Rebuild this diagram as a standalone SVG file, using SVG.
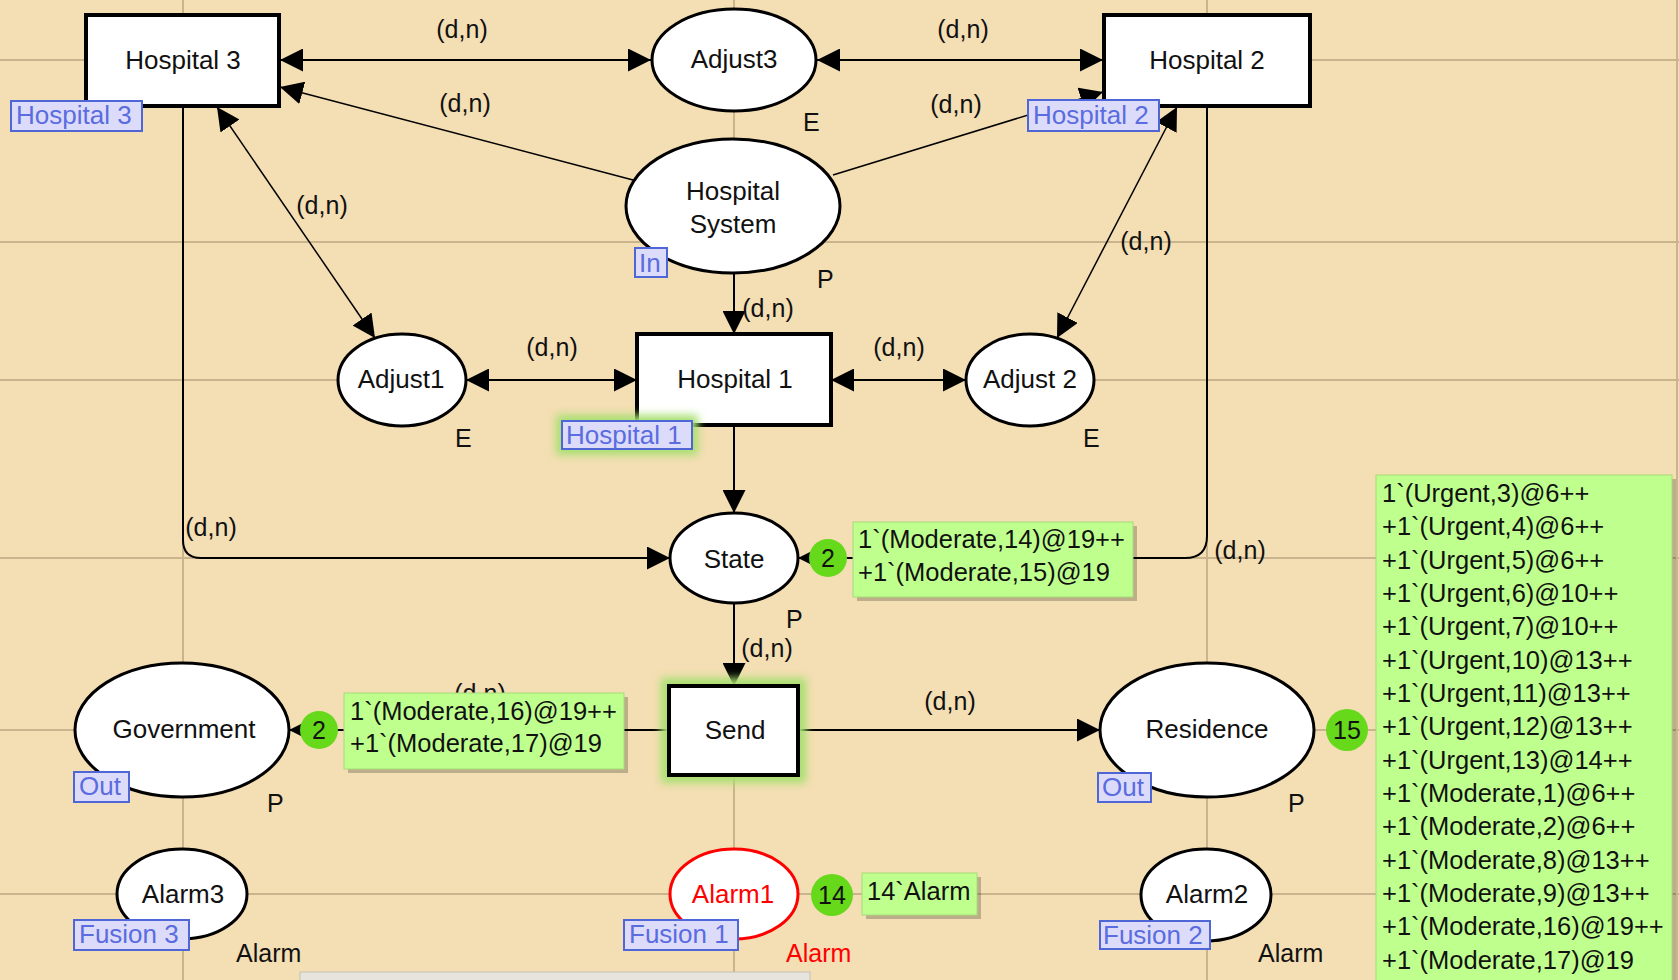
<svg xmlns="http://www.w3.org/2000/svg" width="1679" height="980" viewBox="0 0 1679 980">
<style>
text{font-family:"Liberation Sans",Arial,sans-serif;}
.grid{stroke:#C9B48D;stroke-width:2;fill:none}
.arc{stroke:#000;stroke-width:2;fill:none}
.arcd{stroke:#000;stroke-width:1.5;fill:none}
.trans{fill:#fff;stroke:#000;stroke-width:4}
.place{fill:#fff;stroke:#000;stroke-width:3}
.name{font-size:26px;fill:#111;text-anchor:middle}
.insc{font-size:25px;fill:#111}
.mid{text-anchor:middle}
.tag rect{fill:#DCDCFA;stroke:#4F67D6;stroke-width:2}
.tag text{font-size:26px;fill:#5A6CE0}
.tok circle{fill:#66D91A}
.tok text{font-size:25px;fill:#111;text-anchor:middle}
.box{fill:#BFFF8E;stroke:#A6DC78;stroke-width:1}
.sh{fill:#000;opacity:.22}
.mk{font-size:25.5px;fill:#111}
.glow{fill:#A6E070;filter:url(#blur)}
.red{stroke:#FF0000}
.redt{fill:#FF0000}
</style>
<defs>
<marker id="ah" markerWidth="23" markerHeight="23" refX="23" refY="11.5" orient="auto-start-reverse" markerUnits="userSpaceOnUse"><path d="M0,0 L23,11.5 L0,23 Z" fill="#000"/></marker>
<filter id="blur" x="-30%" y="-30%" width="160%" height="160%"><feGaussianBlur stdDeviation="4"/></filter>
</defs>
<rect width="1679" height="980" fill="#F4DEB3"/>
<g id="grid" class="grid">
<line x1="183" y1="0" x2="183" y2="980"/>
<line x1="734" y1="0" x2="734" y2="980"/>
<line x1="1207" y1="0" x2="1207" y2="980"/>
<line x1="1677" y1="0" x2="1677" y2="980"/>
<line x1="0" y1="60" x2="1679" y2="60"/>
<line x1="0" y1="242" x2="1679" y2="242"/>
<line x1="0" y1="380" x2="1679" y2="380"/>
<line x1="0" y1="558" x2="1679" y2="558"/>
<line x1="0" y1="730" x2="1679" y2="730"/>
<line x1="0" y1="894" x2="1679" y2="894"/>
</g>
<g id="connectors">
<line class="arc" x1="280" y1="60" x2="651" y2="60" marker-start="url(#ah)" marker-end="url(#ah)"/>
<line class="arc" x1="817" y1="60" x2="1103" y2="60" marker-start="url(#ah)" marker-end="url(#ah)"/>
<line class="arcd" x1="633" y1="180" x2="280" y2="87" marker-end="url(#ah)"/>
<line class="arcd" x1="833" y1="175" x2="1103" y2="92" marker-end="url(#ah)"/>
<line class="arcd" x1="217" y1="107" x2="375" y2="338" marker-start="url(#ah)" marker-end="url(#ah)"/>
<line class="arcd" x1="1177" y1="107" x2="1057" y2="338" marker-start="url(#ah)" marker-end="url(#ah)"/>
<line class="arc" x1="734" y1="273" x2="734" y2="334" marker-end="url(#ah)"/>
<line class="arc" x1="466" y1="380" x2="637" y2="380" marker-start="url(#ah)" marker-end="url(#ah)"/>
<line class="arc" x1="831" y1="380" x2="966" y2="380" marker-start="url(#ah)" marker-end="url(#ah)"/>
<line class="arc" x1="734" y1="425" x2="734" y2="513" marker-end="url(#ah)"/>
<path class="arc" d="M183,106 V540 Q183,558 201,558 H670" marker-end="url(#ah)"/>
<path class="arc" d="M1207,107 V536 Q1207,558 1185,558 H798" marker-end="url(#ah)"/>
<line class="arc" x1="734" y1="603" x2="734" y2="686" marker-end="url(#ah)"/>
<line class="arc" x1="669" y1="730" x2="289" y2="730" marker-end="url(#ah)"/>
<line class="arc" x1="798" y1="730" x2="1100" y2="730" marker-end="url(#ah)"/>
<g class="insc mid">
<text x="462" y="38">(d,n)</text>
<text x="963" y="38">(d,n)</text>
<text x="465" y="112">(d,n)</text>
<text x="956" y="113">(d,n)</text>
<text x="322" y="214">(d,n)</text>
<text x="1146" y="250">(d,n)</text>
<text x="768" y="317">(d,n)</text>
<text x="552" y="356">(d,n)</text>
<text x="899" y="356">(d,n)</text>
<text x="211" y="536">(d,n)</text>
<text x="1240" y="559">(d,n)</text>
<text x="767" y="657">(d,n)</text>
<text x="480" y="702">(d,n)</text>
<text x="950" y="710">(d,n)</text>
</g>
</g>
<g id="hospital3">
<rect class="trans" x="86" y="15" width="193" height="91"/>
<text class="name" x="183" y="69">Hospital 3</text>
<g class="tag"><rect x="11" y="101" width="131" height="30"/><text x="16" y="124">Hospital 3</text></g>
</g>
<g id="adjust3">
<ellipse class="place" cx="734" cy="60" rx="82" ry="51"/>
<text class="name" x="734" y="68">Adjust3</text>
<text class="insc" x="803" y="131">E</text>
</g>
<g id="hospital2">
<rect class="trans" x="1104" y="15" width="206" height="91"/>
<text class="name" x="1207" y="69">Hospital 2</text>
<g class="tag"><rect x="1028" y="100" width="131" height="31"/><text x="1033" y="124">Hospital 2</text></g>
</g>
<g id="hospital-system">
<ellipse class="place" cx="733" cy="206" rx="107" ry="67"/>
<text class="name" x="733" y="200">Hospital</text>
<text class="name" x="733" y="233">System</text>
<g class="tag"><rect x="635" y="248" width="32" height="29"/><text x="639" y="272">In</text></g>
<text class="insc" x="817" y="288">P</text>
</g>
<g id="adjust1">
<ellipse class="place" cx="402" cy="380" rx="64" ry="46"/>
<text class="name" x="401" y="388">Adjust1</text>
<text class="insc" x="455" y="447">E</text>
</g>
<g id="hospital1">
<rect class="trans" x="637" y="334" width="194" height="91"/>
<text class="name" x="735" y="388">Hospital 1</text>
<rect class="glow" x="556" y="415" width="142" height="40"/>
<g class="tag"><rect x="562" y="421" width="130" height="28"/><text x="566" y="444">Hospital 1</text></g>
</g>
<g id="adjust2">
<ellipse class="place" cx="1030" cy="380" rx="64" ry="46"/>
<text class="name" x="1030" y="388">Adjust 2</text>
<text class="insc" x="1083" y="447">E</text>
</g>
<g id="state">
<ellipse class="place" cx="734" cy="558" rx="64" ry="45"/>
<text class="name" x="734" y="568">State</text>
<text class="insc" x="786" y="628">P</text>
<g class="tok"><circle cx="828" cy="558" r="19"/><text x="828" y="567">2</text></g>
<rect class="sh" x="857" y="526" width="280" height="75"/>
<rect class="box" x="853" y="522" width="280" height="75"/>
<text class="mk" x="858" y="548">1`(Moderate,14)@19++</text>
<text class="mk" x="858" y="581">+1`(Moderate,15)@19</text>
</g>
<g id="government">
<ellipse class="place" cx="182" cy="730" rx="107" ry="67"/>
<text class="name" x="184" y="738">Government</text>
<g class="tag"><rect x="74" y="772" width="55" height="30"/><text x="79" y="795">Out</text></g>
<text class="insc" x="267" y="812">P</text>
<g class="tok"><circle cx="319" cy="730" r="19"/><text x="319" y="739">2</text></g>
<rect class="sh" x="348" y="697" width="280" height="76"/>
<rect class="box" x="344" y="693" width="280" height="76"/>
<text class="mk" x="350" y="720">1`(Moderate,16)@19++</text>
<text class="mk" x="350" y="752">+1`(Moderate,17)@19</text>
</g>
<g id="send">
<rect class="glow" x="661" y="678" width="145" height="105"/>
<rect class="trans" x="669" y="686" width="129" height="89"/>
<text class="name" x="735" y="739">Send</text>
</g>
<g id="residence">
<ellipse class="place" cx="1207" cy="730" rx="107" ry="67"/>
<text class="name" x="1207" y="738">Residence</text>
<g class="tag"><rect x="1098" y="773" width="53" height="29"/><text x="1102" y="796">Out</text></g>
<text class="insc" x="1288" y="812">P</text>
<g class="tok"><circle cx="1347" cy="730" r="21"/><text x="1347" y="739">15</text></g>
<rect class="sh" x="1380" y="479" width="296" height="510"/>
<rect class="box" x="1376" y="475" width="296" height="510"/>
<g class="mk">
<text x="1382" y="502">1`(Urgent,3)@6++</text>
<text x="1382" y="535">+1`(Urgent,4)@6++</text>
<text x="1382" y="569">+1`(Urgent,5)@6++</text>
<text x="1382" y="602">+1`(Urgent,6)@10++</text>
<text x="1382" y="635">+1`(Urgent,7)@10++</text>
<text x="1382" y="669">+1`(Urgent,10)@13++</text>
<text x="1382" y="702">+1`(Urgent,11)@13++</text>
<text x="1382" y="735">+1`(Urgent,12)@13++</text>
<text x="1382" y="769">+1`(Urgent,13)@14++</text>
<text x="1382" y="802">+1`(Moderate,1)@6++</text>
<text x="1382" y="835">+1`(Moderate,2)@6++</text>
<text x="1382" y="869">+1`(Moderate,8)@13++</text>
<text x="1382" y="902">+1`(Moderate,9)@13++</text>
<text x="1382" y="935">+1`(Moderate,16)@19++</text>
<text x="1382" y="969">+1`(Moderate,17)@19</text>
</g>
</g>
<g id="alarm3">
<ellipse class="place" cx="182" cy="894" rx="65" ry="45"/>
<text class="name" x="183" y="903">Alarm3</text>
<g class="tag"><rect x="74" y="920" width="115" height="30"/><text x="79" y="943">Fusion 3</text></g>
<text class="insc" x="236" y="962">Alarm</text>
</g>
<g id="alarm1">
<ellipse class="place red" cx="734" cy="894" rx="64" ry="45"/>
<text class="name redt" x="733" y="903">Alarm1</text>
<g class="tag"><rect x="624" y="920" width="114" height="30"/><text x="629" y="943">Fusion 1</text></g>
<text class="insc redt" x="786" y="962">Alarm</text>
<g class="tok"><circle cx="832" cy="895" r="21"/><text x="832" y="904">14</text></g>
<rect class="sh" x="866" y="877" width="115" height="42"/>
<rect class="box" x="862" y="873" width="115" height="42"/>
<text class="mk" x="867" y="900">14`Alarm</text>
</g>
<g id="alarm2">
<ellipse class="place" cx="1206" cy="895" rx="65" ry="46"/>
<text class="name" x="1207" y="903">Alarm2</text>
<g class="tag"><rect x="1100" y="921" width="110" height="28"/><text x="1103" y="944">Fusion 2</text></g>
<text class="insc" x="1258" y="962">Alarm</text>
</g>
<rect x="300" y="972" width="510" height="10" fill="#E6E4DC" stroke="#C4C0B4" stroke-width="1"/>
</svg>
